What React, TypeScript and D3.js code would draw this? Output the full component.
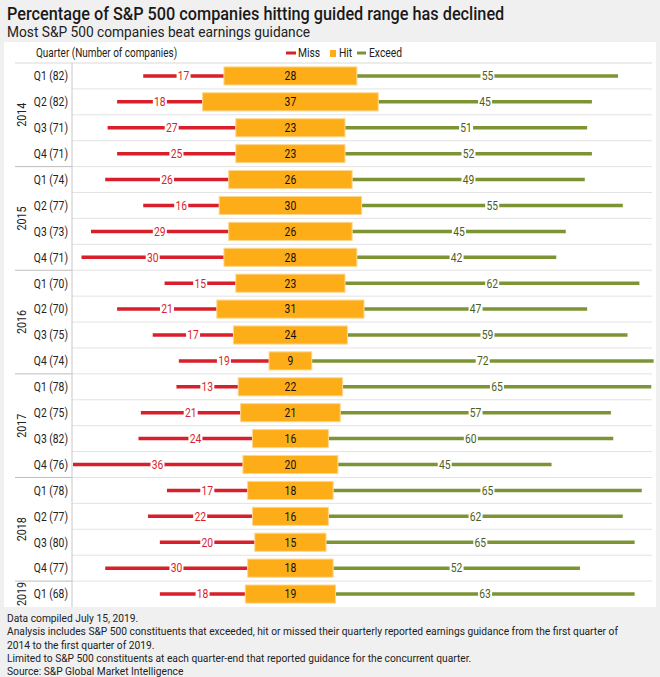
import * as d3 from "d3";

const years = ["2014", "2015", "2016", "2017", "2018", "2019"];
const quarters = [
  "Q1 (82)", "Q2 (82)", "Q3 (71)", "Q4 (71)",
  "Q1 (74)", "Q2 (77)", "Q3 (73)", "Q4 (71)",
  "Q1 (70)", "Q2 (70)", "Q3 (75)", "Q4 (74)",
  "Q1 (78)", "Q2 (75)", "Q3 (82)", "Q4 (76)",
  "Q1 (78)", "Q2 (77)", "Q3 (80)", "Q4 (77)",
  "Q1 (68)",
];
const rowYear = [
  "2014", "2014", "2014", "2014",
  "2015", "2015", "2015", "2015",
  "2016", "2016", "2016", "2016",
  "2017", "2017", "2017", "2017",
  "2018", "2018", "2018", "2018",
  "2019",
];
const miss = [17, 18, 27, 25, 26, 16, 29, 30, 15, 21, 17, 19, 13, 21, 24, 36, 17, 22, 20, 30, 18];
const hit = [28, 37, 23, 23, 26, 30, 26, 28, 23, 31, 24, 9, 22, 21, 16, 20, 18, 16, 15, 18, 19];
const exceed = [55, 45, 51, 52, 49, 55, 45, 42, 62, 47, 59, 72, 65, 57, 60, 45, 65, 62, 65, 52, 63];

const footnotes = [
  "Data compiled July 15, 2019.",
  "Analysis includes S&P 500 constituents that exceeded, hit or missed their quarterly reported earnings guidance from the first quarter of",
  "2014 to the first quarter of 2019.",
  "Limited to S&P 500 constituents at each quarter-end that reported guidance for the concurrent quarter.",
  "Source: S&P Global Market Intelligence",
];

const W = 660;
const H = 677;
const RED = "#d81f2a";
const ORANGE = "#fdad18";
const GREEN = "#7d9434";
const FONT = "Roboto, 'Noto Sans', sans-serif";

// condensed-looking text: Roboto squeezed horizontally
const T = ({ x, y, size = 12, sx = 0.86, anchor = "start", fill = "#222", rotate = 0, dy = "0", weight = 400, children }: any) => (
  <text
    transform={`translate(${x},${y}) rotate(${rotate}) scale(${sx},1)`}
    dy={dy}
    textAnchor={anchor}
    fontSize={size}
    fontWeight={weight}
    fontFamily={FONT}
    fill={fill}
  >
    {children}
  </text>
);

export default function App() {
  const rows = quarters.map((_, i) => i);
  const plotLeft = 72;
  const plotRight = 656;
  const x = d3.scaleLinear().domain([-46, 77]).range([plotLeft, plotRight]);
  const y = d3.scaleBand<number>().domain(rows).range([63, 607]).paddingInner(0);
  const bh = y.bandwidth();
  const hitH = bh * 0.7;

  const clip = (v: number) => Math.max(plotLeft + 1, Math.min(plotRight, v));

  const label = (cx: number, cy: number, txt: string, color: string) => {
    const w = txt.length * 5.5 + 3;
    return (
      <g>
        <rect x={cx - w / 2} y={cy - 5} width={w} height={10} fill="#fff" />
        <T x={cx} y={cy} dy="0.36em" anchor="middle" fill={color} size={12}>
          {txt}
        </T>
      </g>
    );
  };

  const groups = years.map((yr) => {
    const idx = rows.filter((i) => rowYear[i] === yr);
    const y0 = y(idx[0])!;
    const y1 = y(idx[idx.length - 1])! + bh;
    return { yr, y0, y1 };
  });

  return (
    <svg width={W} height={H} style={{ position: "absolute", left: 0, top: 0 }}>
      <rect width={W} height={H} fill="#f0f0f0" />
      <T x={7} y={20} size={17.5} sx={0.93} weight={500} fill="#1a1a1a">
        Percentage of S&amp;P 500 companies hitting guided range has declined
      </T>
      <T x={7} y={37} size={14} sx={0.98} fill="#222">
        Most S&amp;P 500 companies beat earnings guidance
      </T>
      <rect x={4} y={42} width={652} height={565} fill="#fff" />

      {/* legend */}
      <T x={36} y={57} size={12} sx={0.83}>Quarter (Number of companies)</T>
      <line x1={286} x2={296} y1={53} y2={53} stroke={RED} strokeWidth={3} />
      <T x={298} y={57} size={12}>Miss</T>
      <rect x={330} y={50} width={6} height={7} fill={ORANGE} />
      <T x={339} y={57} size={12}>Hit</T>
      <line x1={357} x2={366} y1={53} y2={53} stroke={GREEN} strokeWidth={3} />
      <T x={369} y={57} size={12}>Exceed</T>

      {/* grid */}
      <line x1={15} x2={652} y1={63} y2={63} stroke="#d9d9d9" />
      {rows.slice(1).map((i) => (
        <line key={i} x1={plotLeft} x2={652} y1={y(i)} y2={y(i)} stroke="#e3e3e3" />
      ))}
      {groups.slice(1).map((g) => (
        <line key={g.yr} x1={15} x2={plotLeft} y1={g.y0} y2={g.y0} stroke="#bdbdbd" />
      ))}
      <line x1={plotLeft} x2={plotLeft} y1={63} y2={607} stroke="#c8c8c8" />

      {/* left labels */}
      {groups.map((g) => (
        <T key={g.yr} x={26} y={(g.y0 + g.y1) / 2} rotate={-90} anchor="middle" size={12.5}>
          {g.yr}
        </T>
      ))}
      {rows.map((i) => (
        <T key={i} x={68} y={y(i)! + bh / 2} dy="0.36em" anchor="end" size={12}>
          {quarters[i]}
        </T>
      ))}

      {/* bars */}
      {rows.map((i) => {
        const cy = y(i)! + bh / 2;
        const hl = -hit[i] / 2;
        const hr = hit[i] / 2;
        const m0 = x(hl - miss[i]);
        const e1 = x(hr + exceed[i]);
        return (
          <g key={i}>
            <line x1={clip(m0)} x2={x(hl)} y1={cy} y2={cy} stroke={RED} strokeWidth={3.5} />
            <line x1={x(hr)} x2={clip(e1)} y1={cy} y2={cy} stroke={GREEN} strokeWidth={3.5} />
            <rect
              x={x(hl)}
              y={cy - hitH / 2}
              width={x(hr) - x(hl)}
              height={hitH}
              fill={ORANGE}
              stroke="#fdd790"
              strokeWidth={1}
            />
            <T x={x(0)} y={cy} dy="0.36em" anchor="middle" size={12} fill="#111">
              {hit[i]}
            </T>
            {label((m0 + x(hl)) / 2, cy, String(miss[i]), RED)}
            {label((x(hr) + e1) / 2, cy, String(exceed[i]), "#4d5e22")}
          </g>
        );
      })}

      {/* footnotes */}
      {footnotes.map((t, i) => (
        <T key={i} x={7} y={622 + i * 13.3} size={11.5} sx={0.89}>
          {t}
        </T>
      ))}
    </svg>
  );
}
